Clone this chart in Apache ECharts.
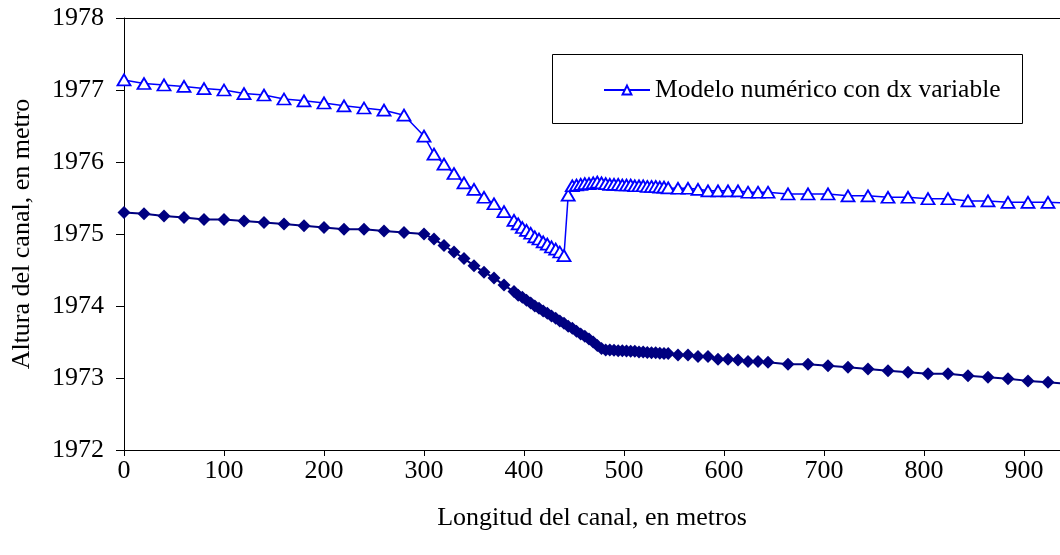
<!DOCTYPE html>
<html>
<head>
<meta charset="utf-8">
<script src="https://cdn.jsdelivr.net/npm/echarts@6/dist/echarts.min.js"></script>
<style>html,body{margin:0;padding:0;background:#fff}#c{width:1060px;height:555px}</style>
</head>
<body>
<div id="c"></div>
<script>
// Channel stations (m)
var distancias = [0,20,40,60,80,100,120,140,160,180,200,220,240,260,280,300,
  310,320,330,340,350,360,370,380,390,
  394.2,398.3,402.5,406.7,410.8,415,419.2,423.3,427.5,431.7,435.8,440,444.2,448.3,452.5,456.7,
  460.8,465,469.2,473.3,477.5,481.7,485.8,490,494.2,498.3,502.5,506.7,510.8,515,519.2,523.3,
  527.5,531.7,535.8,540,544.2,
  554,564,574,584,594,604,614,624,634,644,
  664,684,704,724,744,764,784,804,824,844,864,884,904,924,944];

// Water surface: Modelo numérico con dx variable
var modeloDx = [1977.14,1977.09,1977.07,1977.05,1977.02,1977.00,1976.95,1976.93,1976.875,1976.85,1976.82,1976.78,1976.75,1976.72,1976.65,1976.36,
  1976.11,1975.97,1975.84,1975.71,1975.62,1975.51,1975.42,1975.31,1975.19,
  1975.14,1975.09,1975.05,1975.01,1974.96,1974.93,1974.89,1974.86,1974.82,1974.79,1974.75,1974.70,1975.54,1975.67,1975.68,1975.69,
  1975.70,1975.70,1975.71,1975.72,1975.71,1975.70,1975.69,1975.69,1975.69,1975.68,1975.68,1975.68,1975.67,1975.67,1975.67,1975.66,
  1975.66,1975.66,1975.65,1975.65,1975.64,
  1975.635,1975.635,1975.62,1975.60,1975.60,1975.60,1975.60,1975.58,1975.58,1975.58,
  1975.556,1975.556,1975.556,1975.53,1975.53,1975.51,1975.51,1975.49,1975.49,1975.46,1975.46,1975.44,1975.44,1975.44,1975.43];

// Channel bed
var fondoCanal = [1975.30,1975.28,1975.25,1975.23,1975.20,1975.20,1975.18,1975.16,1975.14,1975.115,1975.09,1975.065,1975.065,1975.04,1975.02,1975.00,
  1974.93,1974.84,1974.75,1974.66,1974.56,1974.47,1974.39,1974.29,1974.20,
  1974.15,1974.12,1974.08,1974.04,1974.00,1973.97,1973.93,1973.90,1973.86,1973.83,1973.79,1973.76,1973.72,1973.69,1973.65,1973.61,
  1973.58,1973.54,1973.50,1973.45,1973.41,1973.39,1973.39,1973.385,1973.38,1973.38,1973.375,1973.37,1973.37,1973.36,1973.36,1973.355,
  1973.35,1973.35,1973.345,1973.34,1973.34,
  1973.32,1973.32,1973.30,1973.30,1973.26,1973.26,1973.25,1973.23,1973.23,1973.22,
  1973.19,1973.19,1973.17,1973.15,1973.125,1973.10,1973.08,1973.06,1973.06,1973.03,1973.01,1972.99,1972.96,1972.94,1972.92];

var xTicks = [0,100,200,300,400,500,600,700,800,900];
var yTicks = [1972,1973,1974,1975,1976,1977,1978];

var nombreModelo = 'Modelo numérico con dx variable';
var tituloX = 'Longitud del canal, en metros';
var tituloY = 'Altura del canal, en metro';

function pares(xs, ys){ return xs.map(function(x,i){ return [x, ys[i]]; }); }

var FONT = 'Liberation Serif';
var chart = echarts.init(document.getElementById('c'), null, {renderer:'canvas'});
chart.setOption({
  animation:false,
  backgroundColor:'#fff',
  textStyle:{fontFamily:FONT, color:'#000'},
  grid:{left:124, right:0, top:18, bottom:105, containLabel:false},
  graphic:[{type:'rect', left:552, top:54, shape:{width:470, height:69}, style:{fill:'#fff', stroke:'#000', lineWidth:1}, z:5}],
  legend:{
    data:[nombreModelo], left:598, top:72, itemWidth:46, itemHeight:11, itemGap:7,
    textStyle:{fontFamily:FONT, fontSize:25.5, color:'#000'}, z:10
  },
  xAxis:[{
    type:'value', min:0, max:936, interval:100, position:'bottom',
    name:tituloX, nameLocation:'middle', nameGap:55,
    nameTextStyle:{fontFamily:FONT, fontSize:26, color:'#000'},
    axisLine:{show:true, onZero:false, lineStyle:{color:'#000', width:1}},
    axisTick:{show:true, length:6, customValues:xTicks, lineStyle:{color:'#000'}},
    axisLabel:{customValues:xTicks, margin:8, fontFamily:FONT, fontSize:26, color:'#000',
      formatter:function(v){ return String(v); }},
    splitLine:{show:false}
  },{
    type:'value', min:0, max:936, position:'top',
    axisLine:{show:true, onZero:false, lineStyle:{color:'#000', width:1}},
    axisTick:{show:false}, axisLabel:{show:false}, splitLine:{show:false}
  }],
  yAxis:{
    type:'value', min:1972, max:1978, interval:1,
    name:tituloY, nameLocation:'middle', nameGap:89, nameRotate:90,
    nameTextStyle:{fontFamily:FONT, fontSize:26, color:'#000'},
    axisLine:{show:true, onZero:false, lineStyle:{color:'#000', width:1}},
    axisTick:{show:true, length:8, customValues:yTicks, lineStyle:{color:'#000'}},
    axisLabel:{customValues:yTicks, margin:20, fontFamily:FONT, fontSize:26, color:'#000',
      formatter:function(v){ return String(v); }},
    splitLine:{show:false}
  },
  series:[{
    name:'Fondo del canal', type:'line', data:pares(distancias, fondoCanal),
    symbol:'diamond', symbolSize:[13,13], showAllSymbol:true,
    lineStyle:{color:'#000080', width:2},
    itemStyle:{color:'#000080', borderColor:'#000080', borderWidth:0},
    z:3
  },{
    name:nombreModelo, type:'line', data:pares(distancias, modeloDx),
    symbol:'triangle', symbolSize:[13,11], showAllSymbol:true,
    lineStyle:{color:'#0000ff', width:1.5},
    itemStyle:{color:'#ffffff', borderColor:'#0000ff', borderWidth:1.8},
    z:4
  }]
});
</script>
</body>
</html>
